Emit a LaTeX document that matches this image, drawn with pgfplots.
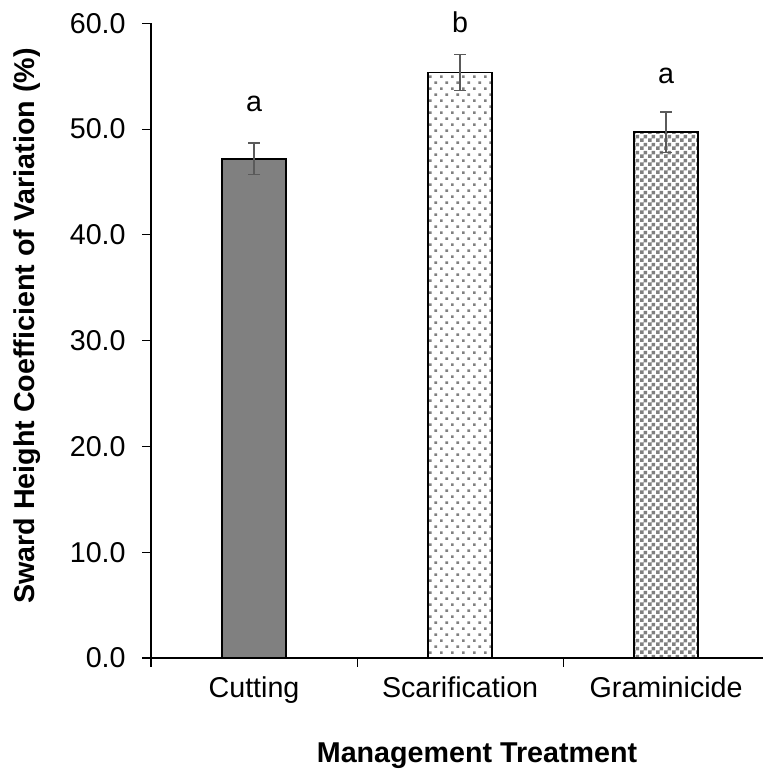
\documentclass[border=0pt]{standalone}
\usepackage{pgfplots}
\pgfplotsset{compat=1.18}
\usepackage{fontspec}
\setmainfont{Liberation Sans}
\usetikzlibrary{patterns}
\pgfdeclarepatternformonly{sparsedots}{\pgfqpoint{-1pt}{-1pt}}{\pgfqpoint{9pt}{9pt}}{\pgfqpoint{8.25pt}{9pt}}{%
  \pgfpathrectangle{\pgfqpoint{0pt}{0pt}}{\pgfqpoint{1.9pt}{1.9pt}}%
  \pgfpathrectangle{\pgfqpoint{4.1pt}{4.5pt}}{\pgfqpoint{1.9pt}{1.9pt}}%
  \pgfusepath{fill}}
\pgfdeclarepatternformonly{checker}{\pgfqpoint{0pt}{0pt}}{\pgfqpoint{6pt}{6pt}}{\pgfqpoint{6pt}{6pt}}{%
  \pgfpathrectangle{\pgfqpoint{0pt}{0pt}}{\pgfqpoint{3pt}{3pt}}%
  \pgfpathrectangle{\pgfqpoint{3pt}{3pt}}{\pgfqpoint{3pt}{3pt}}%
  \pgfusepath{fill}}
\definecolor{barg}{RGB}{128,128,128}
\definecolor{errg}{RGB}{90,90,90}
\begin{document}
\begin{tikzpicture}
\begin{axis}[
  at={(0,0)}, anchor=south west,
  scale only axis,
  width=459pt, height=476pt,
  xmin=-0.5, xmax=2.47,
  ymin=0, ymax=60,
  axis x line*=bottom,
  axis y line*=left,
  axis line style={line width=0.8pt},
  xtick={-0.5,0.5,1.5},
  xticklabels={},
  extra x ticks={0,1,2},
  extra x tick labels={Cutting,Scarification,Graminicide},
  extra x tick style={major tick length=0pt, xticklabel style={yshift=-10.5pt}},
  x tick style={draw=black, line width=0.8pt},
  ytick={0,10,...,60},
  y tick style={draw=black, line width=0.8pt},
  tick align=outside,
  major tick length=6.5pt,
  yticklabel style={xshift=-9pt, /pgf/number format/.cd, fixed, fixed zerofill, precision=1},
  /pgf/number format/assume math mode=true,
  ticklabel style={font=\fontsize{21.5}{24}\selectfont},
  ylabel={\textbf{Sward Height Coefficient of Variation (\%)}},
  xlabel={\textbf{Management Treatment}},
  label style={font=\fontsize{21.5}{24}\selectfont},
  xlabel style={at={(axis description cs:0.5,0)}, anchor=base, yshift=-78.5pt, xshift=15pt},
  ylabel style={at={(axis description cs:0,0.5)}, anchor=base, yshift=87pt, xshift=11pt},
  ybar, bar width=0.31, bar shift=0pt,
  clip=false,
]
\addplot[draw=black, line width=1.3pt, fill=barg,
  error bars/.cd, y dir=both, y explicit,
  error bar style={line width=1.3pt, errg},
  error mark options={rotate=90, mark size=4.5pt, line width=1.3pt, errg}]
  coordinates {(0,47.2) +- (0,1.5)};
\addplot[draw=black, line width=1.3pt, pattern=sparsedots, pattern color=barg,
  error bars/.cd, y dir=both, y explicit,
  error bar style={line width=1.3pt, errg},
  error mark options={rotate=90, mark size=4.5pt, line width=1.3pt, errg}]
  coordinates {(1,55.35) +- (0,1.7)};
\addplot[draw=black, line width=1.3pt, pattern=checker, pattern color=barg,
  error bars/.cd, y dir=both, y explicit,
  error bar style={line width=1.3pt, errg},
  error mark options={rotate=90, mark size=4.5pt, line width=1.3pt, errg}]
  coordinates {(2,49.7) +- (0,1.9)};
\node[font=\fontsize{21.5}{24}\selectfont, anchor=base] at (axis cs:0,51.7) {a};
\node[font=\fontsize{21.5}{24}\selectfont, anchor=base] at (axis cs:1,59.1) {b};
\node[font=\fontsize{21.5}{24}\selectfont, anchor=base] at (axis cs:2,54.35) {a};
\end{axis}
\pgfresetboundingbox
\useasboundingbox (-113.25pt,-87pt) rectangle (459pt,493.5pt);
\end{tikzpicture}
\end{document}
